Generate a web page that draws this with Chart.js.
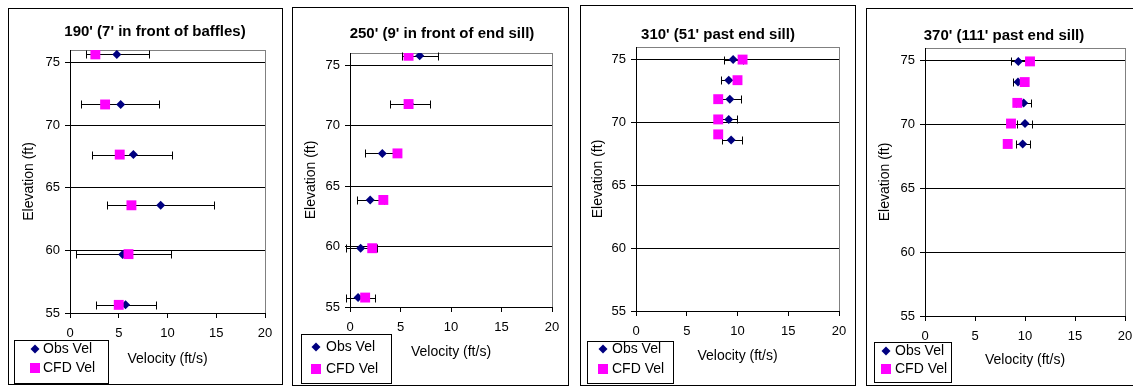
<!DOCTYPE html>
<html>
<head>
<meta charset="utf-8">
<title>Velocity profiles</title>
<script src="https://cdn.jsdelivr.net/npm/chart.js@4.4.0/dist/chart.umd.min.js"></script>
<style>
    html, body { margin: 0; padding: 0; background: #fff; }
    body { width: 1133px; height: 386px; position: relative; overflow: hidden; }
    canvas { position: absolute; }
</style>
</head>
<body>
<canvas id="panel-190"></canvas>
<canvas id="panel-250"></canvas>
<canvas id="panel-310"></canvas>
<canvas id="panel-370"></canvas>
<script>
// ---- data ----
const stationTitles = [
    "190' (7' in front of baffles)",
    "250' (9' in front of end sill)",
    "310' (51' past end sill)",
    "370' (111' past end sill)"
];
const velocityTicks = [0, 5, 10, 15, 20];
const elevationTicks = [55, 60, 65, 70, 75];
const seriesNames = ['Obs Vel', 'CFD Vel'];

// 190'
const obsElev190 = [75.65, 71.65, 67.65, 63.6, 59.68, 55.65];
const obsVel190  = [4.8, 5.2, 6.5, 9.3, 5.4, 5.7];
const obsLow190  = [1.6, 1.1, 2.3, 3.8, 0.6, 2.7];
const obsHigh190 = [8.1, 9.1, 10.5, 14.8, 10.4, 8.85];
const cfdElev190 = [75.65, 71.65, 67.65, 63.6, 59.7, 55.65];
const cfdVel190  = [2.6, 3.6, 5.1, 6.3, 6.0, 5.0];

// 250'
const obsElev250 = [75.77, 71.78, 67.7, 63.85, 59.86, 55.78];
const obsVel250  = [6.9, 5.9, 3.2, 2.0, 1.05, 0.8];
const obsLow250  = [5.1, 4.0, 1.5, 0.65, -0.35, -0.35];
const obsHigh250 = [8.7, 7.9, 4.9, 3.35, 2.7, 2.5];
const cfdElev250 = [75.77, 71.78, 67.7, 63.85, 59.86, 55.78];
const cfdVel250  = [5.8, 5.8, 4.7, 3.3, 2.2, 1.5];

// 310'
const obsElev310 = [75.0, 73.36, 71.85, 70.24, 68.6];
const obsVel310  = [9.57, 9.14, 9.24, 9.14, 9.37];
const obsLow310  = [8.65, 8.36, 8.2, 8.35, 8.46];
const obsHigh310 = [10.5, 9.9, 10.3, 9.93, 10.42];
const cfdElev310 = [75.0, 73.36, 71.85, 70.24, 69.05];
const cfdVel310  = [10.5, 10.0, 8.1, 8.1, 8.1];

// 370'
const obsElev370 = [74.95, 73.33, 71.7, 70.08, 68.48];
const obsVel370  = [9.33, 9.3, 9.87, 10.0, 9.77];
const obsLow370  = [8.57, 8.8, 9.1, 9.2, 9.1];
const obsHigh370 = [10.1, 9.8, 10.6, 10.7, 10.5];
const cfdElev370 = [74.95, 73.33, 71.7, 70.08, 68.48];
const cfdVel370  = [10.5, 9.97, 9.23, 8.6, 8.27];

// ---- styling / layout ----
const FONT = "'Liberation Sans', Arial, sans-serif";
const OBS_COLOR = '#000080';
const CFD_COLOR = '#FF00FF';

// page positions of each panel (frame, plot area, text anchors)
const panels = [
    { id: 'panel-190', title: stationTitles[0],
      obs: [obsElev190, obsVel190, obsLow190, obsHigh190], cfd: [cfdElev190, cfdVel190],
      box: { x: 8, y: 8, w: 275, h: 377 }, area: { l: 70, t: 50, r: 265, b: 313 },
      titleAt: [155, 32], yTitleX: 29, xTitleY: 359,
      legend: { x: 14, y: 340, w: 94, h: 43, rows: [349, 368], marker: 35, text: 43 } },
    { id: 'panel-250', title: stationTitles[1],
      obs: [obsElev250, obsVel250, obsLow250, obsHigh250], cfd: [cfdElev250, cfdVel250],
      box: { x: 292, y: 7, w: 277, h: 379 }, area: { l: 350, t: 53, r: 552, b: 307 },
      titleAt: [442, 34], yTitleX: 311, xTitleY: 352,
      legend: { x: 301, y: 334, w: 90, h: 49, rows: [347, 369], marker: 316, text: 326 } },
    { id: 'panel-310', title: stationTitles[2],
      obs: [obsElev310, obsVel310, obsLow310, obsHigh310], cfd: [cfdElev310, cfdVel310],
      box: { x: 580, y: 5, w: 276, h: 381 }, area: { l: 636, t: 47, r: 839, b: 311 },
      titleAt: [718, 35], yTitleX: 598, xTitleY: 356,
      legend: { x: 587, y: 341, w: 86, h: 42, rows: [349, 369], marker: 603, text: 612 } },
    { id: 'panel-370', title: stationTitles[3],
      obs: [obsElev370, obsVel370, obsLow370, obsHigh370], cfd: [cfdElev370, cfdVel370],
      box: { x: 866, y: 8, w: 280, h: 378 }, area: { l: 925, t: 48, r: 1125, b: 316 },
      titleAt: [1004, 36], yTitleX: 885, xTitleY: 360,
      legend: { x: 874, y: 342, w: 77, h: 40, rows: [351, 369], marker: 886, text: 895 } }
];

/**
 * Frame, plot area border, error bars, title and legend for one panel
 */
const panelDecor = {
    id: 'panelDecor',
    beforeDraw(chart, args, opts) {
        const ctx = chart.ctx;
        const a = chart.chartArea;
        ctx.save();
        ctx.fillStyle = '#fff';
        ctx.fillRect(0, 0, chart.width, chart.height);
        ctx.strokeStyle = '#000';
        ctx.lineWidth = 1;
        ctx.strokeRect(0.5, 0.5, chart.width - 1, chart.height - 1);
        ctx.strokeStyle = '#808080';
        ctx.strokeRect(Math.round(a.left) + 0.5, Math.round(a.top) + 0.5,
            Math.round(a.right - a.left), Math.round(a.bottom - a.top));
        ctx.restore();
    },
    beforeDatasetsDraw(chart, args, opts) {
        // horizontal error bars on the observed velocities
        const ctx = chart.ctx;
        const xs = chart.scales.x, ys = chart.scales.y;
        const [elev, , low, high] = opts.obs;
        ctx.save();
        ctx.strokeStyle = '#000';
        ctx.lineWidth = 1;
        ctx.beginPath();
        for (let i = 0; i < elev.length; i++) {
            const y = Math.round(ys.getPixelForValue(elev[i])) + 0.5;
            const x1 = Math.round(xs.getPixelForValue(low[i])) + 0.5;
            const x2 = Math.round(xs.getPixelForValue(high[i])) + 0.5;
            ctx.moveTo(x1, y); ctx.lineTo(x2, y);
            ctx.moveTo(x1, y - 4); ctx.lineTo(x1, y + 4);
            ctx.moveTo(x2, y - 4); ctx.lineTo(x2, y + 4);
        }
        ctx.stroke();
        ctx.restore();
    },
    afterDraw(chart, args, opts) {
        const ctx = chart.ctx;
        const ox = opts.box.x, oy = opts.box.y;
        ctx.save();
        // title
        ctx.fillStyle = '#000';
        ctx.font = 'bold 15px ' + FONT;
        ctx.textAlign = 'center';
        ctx.textBaseline = 'middle';
        ctx.fillText(opts.title, opts.titleAt[0] - ox, opts.titleAt[1] - oy);

        // legend box
        const lg = opts.legend;
        ctx.strokeStyle = '#000';
        ctx.lineWidth = 1;
        ctx.strokeRect(lg.x - ox + 0.5, lg.y - oy + 0.5, lg.w, lg.h);

        const mx = lg.marker - ox;
        const r0 = lg.rows[0] - oy, r1 = lg.rows[1] - oy;
        ctx.fillStyle = OBS_COLOR;
        ctx.beginPath();
        ctx.moveTo(mx - 4.5, r0); ctx.lineTo(mx, r0 - 4.5);
        ctx.lineTo(mx + 4.5, r0); ctx.lineTo(mx, r0 + 4.5);
        ctx.closePath();
        ctx.fill();
        ctx.fillStyle = CFD_COLOR;
        ctx.fillRect(mx - 5, r1 - 5, 10, 10);

        ctx.fillStyle = '#000';
        ctx.font = '14px ' + FONT;
        ctx.textAlign = 'left';
        ctx.fillText(seriesNames[0], lg.text - ox, r0);
        ctx.fillText(seriesNames[1], lg.text - ox, r1);
        ctx.restore();
    }
};

function makePoints(elev, vel) {
    return vel.map((v, i) => ({ x: v, y: elev[i] }));
}

function buildPanel(p) {
    const canvas = document.getElementById(p.id);
    const ox = p.box.x, oy = p.box.y, W = p.box.w, H = p.box.h;
    const lh = 14 * 1.2;
    canvas.width = W;
    canvas.height = H;
    canvas.style.left = ox + 'px';
    canvas.style.top = oy + 'px';

    new Chart(canvas, {
        type: 'scatter',
        data: {
            datasets: [
                {
                    label: seriesNames[0],
                    data: makePoints(p.obs[0], p.obs[1]),
                    pointStyle: 'rectRot',
                    pointRadius: 4.5,
                    borderWidth: 0,
                    backgroundColor: OBS_COLOR,
                    borderColor: OBS_COLOR,
                    order: 1
                },
                {
                    label: seriesNames[1],
                    data: makePoints(p.cfd[0], p.cfd[1]),
                    pointStyle: 'rect',
                    pointRadius: 7,
                    borderWidth: 0,
                    backgroundColor: CFD_COLOR,
                    borderColor: CFD_COLOR,
                    order: 0
                }
            ]
        },
        options: {
            responsive: false,
            animation: false,
            devicePixelRatio: 1,
            layout: {
                padding: { left: 0, top: p.area.t - oy, right: ox + W - p.area.r, bottom: 0 }
            },
            scales: {
                x: {
                    type: 'linear',
                    min: velocityTicks[0],
                    max: velocityTicks[velocityTicks.length - 1],
                    afterBuildTicks: s => { s.ticks = velocityTicks.map(v => ({ value: v })); },
                    afterFit: s => { s.height = oy + H - p.area.b; },
                    grid: { drawOnChartArea: false, drawTicks: true, tickLength: 5, color: '#000' },
                    border: { color: '#000', width: 1 },
                    ticks: { color: '#000', font: { family: FONT, size: 13 }, padding: 8, maxRotation: 0 },
                    title: {
                        display: true, text: 'Velocity (ft/s)', color: '#000',
                        font: { family: FONT, size: 14 },
                        padding: { top: 0, bottom: oy + H - p.xTitleY - lh / 2 }
                    }
                },
                y: {
                    type: 'linear',
                    min: elevationTicks[0],
                    max: 76,
                    afterBuildTicks: s => { s.ticks = elevationTicks.map(v => ({ value: v })); },
                    afterFit: s => { s.width = p.area.l - ox; },
                    grid: { drawOnChartArea: true, drawTicks: true, tickLength: 5, color: '#000' },
                    border: { color: '#000', width: 1 },
                    ticks: { color: '#000', font: { family: FONT, size: 13 }, padding: 5 },
                    title: {
                        display: true, text: 'Elevation (ft)', color: '#000',
                        font: { family: FONT, size: 14 },
                        padding: { top: p.yTitleX - ox - lh / 2, bottom: 0 }
                    }
                }
            },
            plugins: {
                legend: { display: false },
                tooltip: { enabled: false },
                title: { display: false },
                panelDecor: {
                    obs: p.obs,
                    box: p.box,
                    title: p.title,
                    titleAt: p.titleAt,
                    legend: p.legend
                }
            }
        },
        plugins: [panelDecor]
    });
}

panels.forEach(buildPanel);
</script>
</body>
</html>
